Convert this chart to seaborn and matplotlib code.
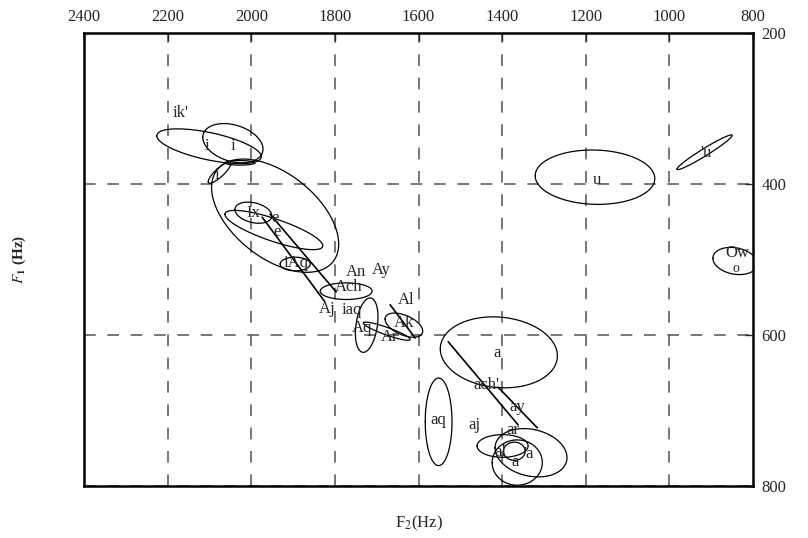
import numpy as np
import matplotlib
matplotlib.use("Agg")
import matplotlib.pyplot as plt
import seaborn as sns

# ========================
# Vowel ellipses (F2, F1 centre, half extents in Hz, F2/F1 correlation)
# ========================
ell_f2 = [2101, 2044, 2076, 2027, 1943, 1995, 1946, 1895, 1773, 1724, 1676, 1635,
          1408, 1552, 1331, 1399, 1364, 1371, 1178, 916, 843]
ell_f1 = [350, 346, 385, 372, 442, 438, 461, 506, 542, 587, 595, 587,
          623, 715, 756, 747, 769, 754, 391, 358, 502]
ell_sx = [125, 72, 27, 36, 152, 44, 117, 36, 62, 27, 56, 45,
          140, 32, 86, 61, 60, 26, 143, 66, 53]
ell_sy = [23, 26, 14, 3, 75, 14, 26, 9, 11, 36, 12, 16,
          47, 58, 32, 15, 30, 12, 36, 23, 18]
ell_rho = [-0.6, -0.3, 0.85, 0.0, -0.5, -0.3, -0.8, 0.0, 0.0, 0.3, -0.9, -0.5,
           -0.1, 0.0, -0.2, 0.0, 0.0, 0.0, -0.05, 0.97, -0.2]

# Trajectory lines (start F2, start F1, end F2, end F1)
seg_f2_start = [1974, 1955, 1668, 1529, 1410]
seg_f1_start = [444, 440, 560, 609, 669]
seg_f2_end = [1824, 1797, 1608, 1362, 1316]
seg_f1_end = [556, 543, 604, 719, 723]

# Vowel labels
lab_text = ["ik'", "i", "i", "i", "Ix", "e", "e", "iAq", "An", "Ay", "Ach", "Aj",
            "iaq", "Al", "Ak", "Aq", "Ar", "a", "ach'", "ay", "aq", "aj", "ar",
            "al", "'a", "a", "u", "'u", "Ow", "o"]
lab_f2 = [2170, 2106, 2044, 2082, 1996, 1943, 1938, 1893, 1749, 1690, 1766, 1819,
          1759, 1630, 1635, 1735, 1670, 1412, 1438, 1364, 1553, 1467, 1374,
          1405, 1338, 1369, 1173, 912, 838, 840]
lab_f1 = [306, 350, 350, 388, 438, 445, 464, 505, 517, 514, 536, 566,
          567, 554, 584, 591, 603, 624, 666, 695, 713, 719, 726,
          755, 758, 768, 395, 359, 492, 512]
lab_size = [12] * 29 + [10]

x_ticks = [2400, 2200, 2000, 1800, 1600, 1400, 1200, 1000, 800]
y_ticks = [200, 400, 600, 800]

# ========================
# Plot
# ========================
sns.set_style("white")
plt.rcParams["font.family"] = ["Liberation Serif", "DejaVu Serif"]
plt.rcParams["mathtext.fontset"] = "stix"

fig = plt.figure(figsize=(8.08, 5.38), dpi=100)
ax = fig.add_axes([0.104, 0.0967, 0.828, 0.842])

# dashed grid
for xv in x_ticks[1:-1]:
    ax.axvline(xv, color="#606060", lw=1.2, ls=(0, (7, 7)), zorder=0)
for yv in y_ticks[1:]:
    ax.axhline(yv, color="#606060", lw=1.2, ls=(0, (7, 7)), zorder=0)

t = np.linspace(0, 2 * np.pi, 120)
for cx, cy, sx, sy, r in zip(ell_f2, ell_f1, ell_sx, ell_sy, ell_rho):
    xs = cx + sx * np.cos(t)
    ys = cy + sy * (r * np.cos(t) + np.sqrt(1 - r ** 2) * np.sin(t))
    sns.lineplot(x=xs, y=ys, sort=False, estimator=None, color="black", lw=0.9, ax=ax)

for x0, y0, x1, y1 in zip(seg_f2_start, seg_f1_start, seg_f2_end, seg_f1_end):
    sns.lineplot(x=[x0, x1], y=[y0, y1], sort=False, estimator=None, color="black", lw=1.2, ax=ax)

for txt, xv, yv, fs in zip(lab_text, lab_f2, lab_f1, lab_size):
    ax.text(xv, yv, txt, fontsize=fs, ha="center", va="center")

ax.set_xlim(2400, 800)
ax.set_ylim(800, 200)
ax.set_xticks(x_ticks)
ax.set_yticks(y_ticks)
ax.xaxis.tick_top()
ax.yaxis.tick_right()
ax.tick_params(axis="x", direction="in", length=6, width=1, labelsize=12, pad=6)
ax.tick_params(axis="y", direction="in", length=6, width=1, labelsize=12, pad=6)
for sp in ax.spines.values():
    sp.set_linewidth(1.8)
    sp.set_color("black")

ax.set_xlabel(r"F$_2$(Hz)", fontsize=12, labelpad=20)
ax.xaxis.set_label_position("bottom")
ax.set_ylabel(r"$\mathbf{\mathit{F}_1}$ (Hz)", fontsize=11, fontweight="bold", labelpad=40)
ax.yaxis.set_label_position("left")

plt.savefig("out.png", dpi=100)
plt.close()
